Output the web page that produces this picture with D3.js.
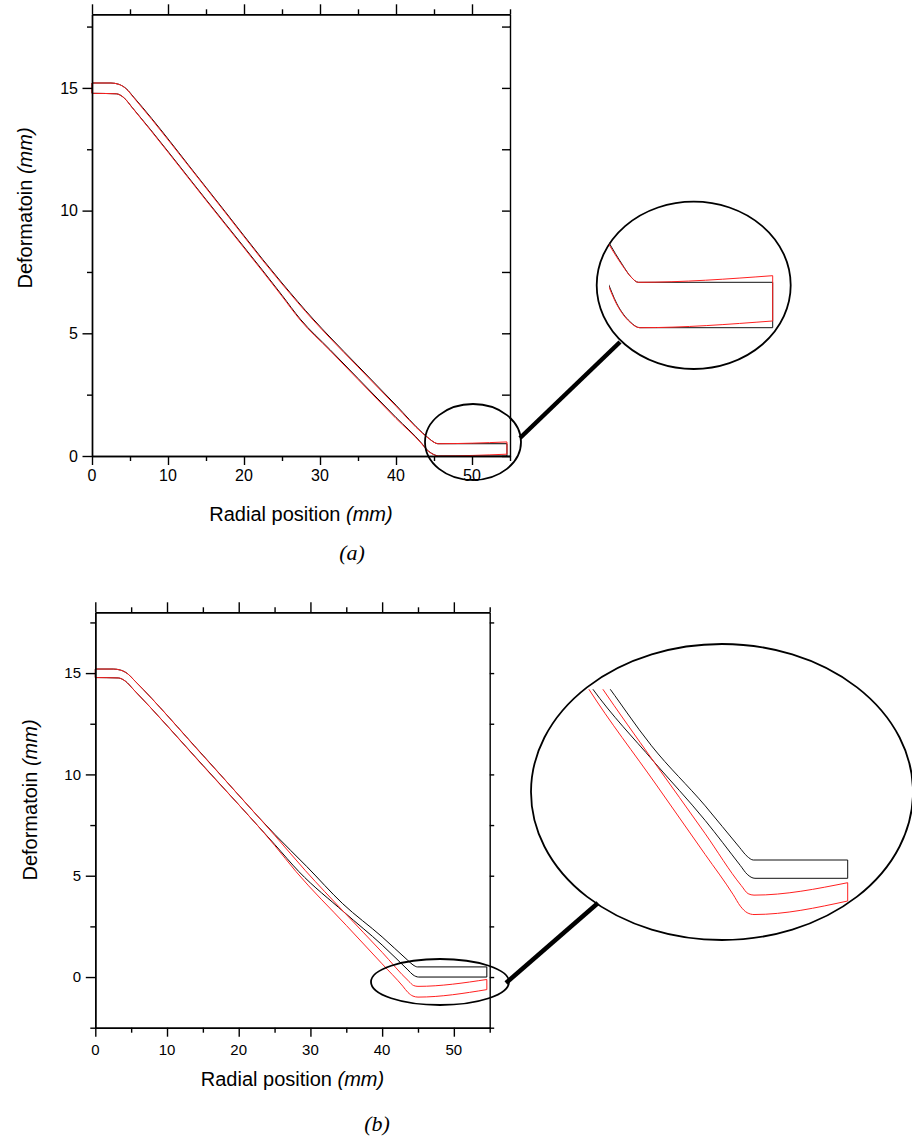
<!DOCTYPE html>
<html><head><meta charset="utf-8">
<script src="https://cdn.jsdelivr.net/npm/d3@7"></script>
<style>body{margin:0;background:#fff}svg{display:block}</style>
</head><body>
<svg id="c" width="912" height="1140"></svg>
<script>
// ---------- data ----------
const xTicksMajor=[0,10,20,30,40,50];
const xTicksMinor=[5,15,25,35,45,55];
const yTicksMajor=[0,5,10,15];
const yTicksMinorA=[2.5,7.5,12.5,17.5];
const yTicksMinorB=[-2.5,2.5,7.5,12.5,17.5];
const xLabels=["0","10","20","30","40","50"];
const yLabels=["0","5","10","15"];

// panel (a): sheet profiles [radial position, deformation]
const aBlackUpper=[[0,15.2],[2.5,15.2],[3.5,15.15],[4.5,14.97],[5.5,14.62],[15,10.95],[25,7.05],[29.1,5.58],[31.3,4.85],[35,3.67],[40,2.07],[43.5,0.94],[44.4,0.7],[45.0,0.56],[45.5,0.5],[54.6,0.5]];
const aBlackLower=[[0,14.78],[3.2,14.76],[4.2,14.6],[5.3,14.2],[15,10.45],[25,6.55],[27.4,5.58],[31.3,4.34],[35,3.16],[40,1.57],[43.4,0.51],[44.03,0.27],[44.94,0.066],[45.6,0],[54.6,0]];
const aRedUpper=[[0,15.2],[2.5,15.2],[3.5,15.15],[4.5,14.96],[5.5,14.6],[15,10.92],[25,7.01],[29.1,5.54],[31.3,4.81],[35,3.63],[40,2.03],[43.5,0.92],[44.4,0.69],[45.0,0.56],[45.5,0.5],[54.6,0.573]];
const aRedLower=[[0,14.78],[3.2,14.76],[4.2,14.6],[5.3,14.19],[15,10.42],[25,6.51],[27.4,5.54],[31.3,4.3],[35,3.12],[40,1.53],[43.4,0.49],[44.03,0.26],[44.94,0.06],[45.6,0],[54.6,0.074]];

// panel (b)
const bBlackUpper=[[0,15.2],[2.5,15.2],[3.5,15.15],[4.5,14.97],[5.5,14.62],[15,10.95],[25,7.05],[29.5,5.45],[34.5,3.62],[40,1.98],[43.5,0.85],[44.3,0.6],[44.93,0.5],[54.6,0.5]];
const bBlackLower=[[0,14.78],[3.2,14.76],[4.2,14.6],[5.3,14.2],[15,10.45],[25,6.55],[28.4,5.2],[34.7,3.2],[40,1.58],[43.6,0.35],[44.3,0.11],[45.1,0],[54.6,0]];
const bRedUpper=[[0,15.2],[2.5,15.2],[3.5,15.15],[4.5,14.97],[5.5,14.62],[15,10.93],[25,7.0],[29.3,5.25],[34.7,3.2],[40,1.22],[43.7,-0.2],[44.4,-0.42],[45.0,-0.46],[54.6,-0.12]];
const bRedLower=[[0,14.78],[3.2,14.76],[4.2,14.6],[5.3,14.2],[15,10.43],[25,6.5],[28.0,5.2],[35,2.55],[40,0.65],[42.88,-0.45],[43.6,-0.76],[44.3,-0.94],[45.0,-0.99],[54.6,-0.62]];

// ---------- drawing ----------
const svg=d3.select("#c");
const SANS="'Liberation Sans', Arial, Helvetica, sans-serif";
const SERIF="'Liberation Serif', 'Times New Roman', serif";

function drawShape(g,upper,lower,x,y,color,w){
  const ln=d3.line().x(d=>x(d[0])).y(d=>y(d[1])).curve(d3.curveMonotoneX);
  const st=d3.line().x(d=>x(d[0])).y(d=>y(d[1]));
  [ln(upper),ln(lower),st([upper[0],lower[0]]),st([upper[upper.length-1],lower[lower.length-1]])].forEach(d=>{
    g.append("path").attr("d",d).attr("fill","none").attr("stroke",color).attr("stroke-width",w);
  });
}

function styleAxis(sel){
  sel.selectAll("path.domain").attr("stroke","#000").attr("stroke-width",1.4);
  sel.selectAll(".tick line").attr("stroke","#000").attr("stroke-width",1.4);
  sel.selectAll("text").remove();
}

function panel(o){
  const x=d3.scaleLinear().domain([0,55]).range([o.x0,o.x1]);
  const y=d3.scaleLinear().domain(o.yDom).range([o.yb,o.yt]);
  const g=svg.append("g");
  drawShape(g,o.bu,o.bl,x,y,"#000",1);
  drawShape(g,o.ru,o.rl,x,y,"#ff2020",1);
  const ax=(gen,tr)=>{const a=g.append("g").attr("transform",tr).call(gen);styleAxis(a);return a;};
  ax(d3.axisBottom(x).tickValues(xTicksMajor).tickSize(9).tickSizeOuter(0),`translate(0,${o.yb})`);
  ax(d3.axisBottom(x).tickValues(xTicksMinor).tickSize(5).tickSizeOuter(0),`translate(0,${o.yb})`);
  ax(d3.axisTop(x).tickValues(xTicksMajor).tickSize(10).tickSizeOuter(0),`translate(0,${o.yt})`);
  ax(d3.axisTop(x).tickValues(xTicksMinor).tickSize(5).tickSizeOuter(0),`translate(0,${o.yt})`);
  ax(d3.axisLeft(y).tickValues(yTicksMajor).tickSize(9.5).tickSizeOuter(0),`translate(${o.x0},0)`);
  ax(d3.axisLeft(y).tickValues(o.yMinor).tickSize(5).tickSizeOuter(0),`translate(${o.x0},0)`);
  if(o.rightIn){
    ax(d3.axisLeft(y).tickValues(yTicksMajor.concat(o.yMinor)).tickSize(8).tickSizeOuter(0),`translate(${o.x1},0)`);
  }else{
    ax(d3.axisRight(y).tickValues(yTicksMajor.concat(o.yMinor)).tickSize(4.5).tickSizeOuter(0),`translate(${o.x1},0)`);
  }
  g.selectAll(null).data(xTicksMajor).enter().append("text")
    .attr("x",d=>x(d)).attr("y",o.yb+o.xlabOff).attr("text-anchor","middle")
    .attr("font-family",SANS).attr("font-size",o.fs).text((d,i)=>xLabels[i]);
  g.selectAll(null).data(yTicksMajor).enter().append("text")
    .attr("x",o.ylabX).attr("y",d=>y(d)).attr("dy","0.36em").attr("text-anchor","end")
    .attr("font-family",SANS).attr("font-size",o.fs).text((d,i)=>yLabels[i]);
  const xt=g.append("text").attr("x",(o.x0+o.x1)/2).attr("y",o.xTitleY).attr("text-anchor","middle")
    .attr("font-family",SANS).attr("font-size",20);
  xt.append("tspan").text("Radial position ");
  xt.append("tspan").attr("font-style","italic").text("(mm)");
  const yt=g.append("text").attr("transform",`translate(${o.yTitleX},${o.yTitleY}) rotate(-90)`)
    .attr("text-anchor","middle").attr("font-family",SANS).attr("font-size",20);
  yt.append("tspan").text("Deformatoin ");
  yt.append("tspan").attr("font-style","italic").text("(mm)");
  g.append("text").attr("x",o.capX).attr("y",o.capY).attr("text-anchor","middle")
    .attr("font-family",SERIF).attr("font-style","italic").attr("font-size",22).text(o.cap);
  g.append("ellipse").attr("cx",o.e1[0]).attr("cy",o.e1[1]).attr("rx",o.e1[2]).attr("ry",o.e1[3])
    .attr("fill","none").attr("stroke","#000").attr("stroke-width",1.8);
  g.append("line").attr("x1",o.con[0]).attr("y1",o.con[1]).attr("x2",o.con[2]).attr("y2",o.con[3])
    .attr("stroke","#000").attr("stroke-width",4.5);
  g.append("ellipse").attr("cx",o.e2[0]).attr("cy",o.e2[1]).attr("rx",o.e2[2]).attr("ry",o.e2[3])
    .attr("fill","none").attr("stroke","#000").attr("stroke-width",1.8);
  const xi=d3.scaleLinear().domain(o.ixD).range(o.ixR);
  const yi=d3.scaleLinear().domain(o.iyD).range(o.iyR);
  const cid="clip"+o.cap.replace(/\W/g,"");
  svg.append("defs").append("clipPath").attr("id",cid).append("rect")
    .attr("x",o.clip[0]).attr("y",o.clip[1]).attr("width",o.clip[2]).attr("height",o.clip[3]);
  const gi=g.append("g").attr("clip-path",`url(#${cid})`);
  drawShape(gi,o.bu,o.bl,xi,yi,"#111",1);
  drawShape(gi,o.ru,o.rl,xi,yi,"#ff2020",1);
}

panel({x0:92,x1:510,yt:14.3,yb:456,yDom:[0,18],yMinor:yTicksMinorA,rightIn:true,
  bu:aBlackUpper,bl:aBlackLower,ru:aRedUpper,rl:aRedLower,
  fs:16,xlabOff:25,ylabX:78,xTitleY:521,yTitleX:32,yTitleY:208,cap:"(a)",capX:352,capY:560,
  e1:[473,442,48,38],con:[520,438,620,342],e2:[693.7,285.3,97,83.7],
  ixD:[45.5,54.6],ixR:[638.3,772.7],iyD:[0,0.5],iyR:[327.7,282.3],clip:[609,150,200,250]});

panel({x0:95.3,x1:489.7,yt:612.3,yb:1027.7,yDom:[-2.5,18],yMinor:yTicksMinorB,rightIn:false,
  bu:bBlackUpper,bl:bBlackLower,ru:bRedUpper,rl:bRedLower,
  fs:15,xlabOff:27,ylabX:81,xTitleY:1086,yTitleX:37,yTitleY:800,cap:"(b)",capX:377,capY:1131,
  e1:[440,982,69,23],con:[506,983,598,903],e2:[722,792,191,148],
  ixD:[45,54.6],ixR:[754,847.7],iyD:[0,0.5],iyR:[878.3,860],clip:[500,689.3,412,300]});
</script>
</body></html>
